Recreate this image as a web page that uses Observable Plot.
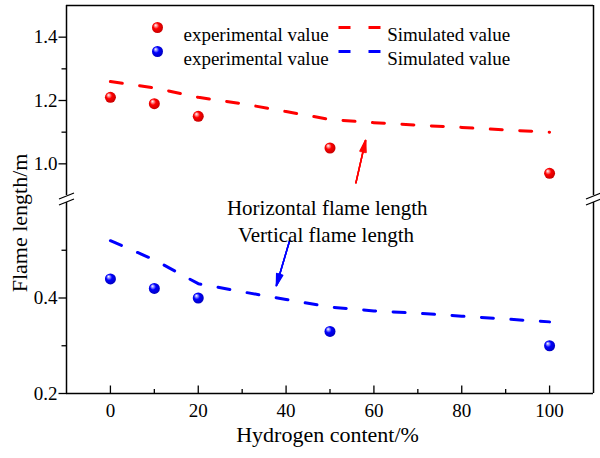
<!DOCTYPE html>
<html><head><meta charset="utf-8">
<script src="https://cdn.jsdelivr.net/npm/d3@7"></script>
<script src="https://cdn.jsdelivr.net/npm/@observablehq/plot@0.6"></script>
<style>
html,body{margin:0;padding:0;background:#fff;}
#chart{position:relative;width:600px;height:458px;background:#fff;}
#chart svg{position:absolute;left:0;overflow:visible;}
</style>
</head><body><div id="chart"></div>
<script>
// ---- data ----
const hydrogen = [0, 10, 20, 50, 100];
const horizExp = [1.21, 1.19, 1.15, 1.05, 0.97];
const vertExp = [0.44, 0.42, 0.40, 0.33, 0.30];
const simHydrogen = [0, 10, 20, 30, 40, 50, 60, 70, 80, 90, 100];
const horizSim = [1.26, 1.24, 1.21, 1.19, 1.165, 1.14, 1.13, 1.122, 1.115, 1.107, 1.10];
const vertSim = [0.52, 0.48, 0.43, 0.413, 0.397, 0.381, 0.373, 0.368, 0.362, 0.356, 0.35];
const xTicks = [0, 20, 40, 60, 80, 100];
const xMinorTicks = [10, 30, 50, 70, 90];
const yTicksUpper = [1.0, 1.2, 1.4];
const yMinorUpper = [1.1, 1.3];
const yTicksLower = [0.2, 0.4];
const yMinorLower = [0.3, 0.5];
const xDomain = [-10, 110];
const yDomainUpper = [0.9, 1.5]; // broken y axis, upper part
const yDomainLower = [0.2, 0.6]; // broken y axis, lower part
const legendLabels = ["experimental value", "Simulated value"];
const annotations = ["Horizontal flame length", "Vertical flame length"];
const xTitle = "Hydrogen content/%";
const yTitle = "Flame length/m";
const redArrow = [{x1: 55.9, y1: 0.94, x2: 58.1, y2: 1.074}];
const blueArrow = [{x1: 40.8, y1: 0.52, x2: 37.8, y2: 0.426}];

const RED = "#ff0000", BLUE = "#0000ff";
const exp = (ys) => hydrogen.map((h, i) => ({x: h, y: ys[i]}));
const sim = (ys) => simHydrogen.map((h, i) => ({x: h, y: ys[i]}));

// custom symbols: tick marks, axis break, legend dash
const lineSym = (x1, y1, x2, y2) => ({draw(c) { c.moveTo(x1, y1); c.lineTo(x2, y2); }});
const breakSym = {draw(c) { c.moveTo(-7.5, 0); c.lineTo(7.5, -6); c.moveTo(-7.5, 6); c.lineTo(7.5, 0); }};
const dashSym = lineSym(-21, 0, 21, 0);
const K = {stroke: "#000", strokeWidth: 1.3, fill: "none"};

const FONT = "'Liberation Serif', 'Times New Roman', serif";
const common = {
  width: 600, marginLeft: 66, marginRight: 7,
  style: {fontFamily: FONT, fontSize: "19px", background: "transparent", color: "#000", overflow: "visible"}
};

const frameSide = (dom) => [{x: xDomain[0], y1: dom[0], y2: dom[1]}, {x: xDomain[1], y1: dom[0], y2: dom[1]}];

// arrow with a (nearly) filled narrow head
const arrowMarks = (data, color) => [
  Plot.arrow(data, {x1: "x1", y1: "y1", x2: "x2", y2: "y2", stroke: color, strokeWidth: 1.5, headLength: 12, headAngle: 30}),
  Plot.arrow(data, {x1: "x1", y1: "y1", x2: "x2", y2: "y2", stroke: color, strokeWidth: 1.5, headLength: 12, headAngle: 20}),
  Plot.arrow(data, {x1: "x1", y1: "y1", x2: "x2", y2: "y2", stroke: color, strokeWidth: 1.5, headLength: 12, headAngle: 10})
];

const legendRow = (r, color) => [
  Plot.dot([legendLabels[0]], {frameAnchor: "top-left", dx: 91, dy: 22 + 24 * r, r: 5.5, fill: color}),
  Plot.text([legendLabels[0]], {text: d => d, frameAnchor: "top-left", dx: 117, dy: 22 + 24 * r, textAnchor: "start", fontSize: 19}),
  Plot.dot([legendLabels[1]], {frameAnchor: "top-left", dx: 293, dy: 22 + 24 * r, symbol: dashSym, stroke: color, strokeWidth: 3, strokeDasharray: "12,18", fill: "none"}),
  Plot.text([legendLabels[1]], {text: d => d, frameAnchor: "top-left", dx: 320.7, dy: 22 + 24 * r, textAnchor: "start", fontSize: 19})
];

// ---------- upper part ----------
const upper = Plot.plot({
  ...common,
  height: 199, marginTop: 5, marginBottom: 4,
  x: {domain: xDomain, axis: null},
  y: {domain: yDomainUpper, ticks: yTicksUpper, tickSize: 0, tickPadding: 9, tickFormat: d3.format(".1f"), label: null},
  marks: [
    Plot.ruleY([yDomainUpper[1]], {stroke: "#000", strokeWidth: 1.5}),
    Plot.ruleX(frameSide(yDomainUpper), {x: "x", y1: "y1", y2: "y2", stroke: "#000", strokeWidth: 1.5}),
    Plot.dot([0], {frameAnchor: "bottom-left", dy: 3.5, symbol: breakSym, ...K}),
    Plot.dot([0], {frameAnchor: "bottom-right", dy: 3.5, symbol: breakSym, ...K}),
    Plot.dot(yTicksUpper, {y: d => d, frameAnchor: "left", symbol: lineSym(-8, 0, 0, 0), ...K}),
    Plot.dot(yMinorUpper, {y: d => d, frameAnchor: "left", symbol: lineSym(-5, 0, 0, 0), ...K}),
    Plot.line(sim(horizSim), {x: "x", y: "y", stroke: RED, strokeWidth: 3, strokeDasharray: "12,17.5"}),
    Plot.dot(exp(horizExp), {x: "x", y: "y", r: 5.5, fill: RED}),
    ...arrowMarks(redArrow, RED),
    Plot.text([annotations[0]], {text: d => d, frameAnchor: "top-left", dx: 260.7, dy: 195, textAnchor: "middle", fontSize: 21}),
    ...legendRow(0, RED),
    ...legendRow(1, BLUE)
  ]
});

// ---------- lower part ----------
const lower = Plot.plot({
  ...common,
  height: 259, marginTop: 3, marginBottom: 65,
  x: {domain: xDomain, ticks: xTicks, tickSize: 0, tickPadding: 10, label: null},
  y: {domain: yDomainLower, ticks: yTicksLower, tickSize: 0, tickPadding: 9, tickFormat: d3.format(".1f"), label: null},
  marks: [
    Plot.ruleY([yDomainLower[0]], {stroke: "#000", strokeWidth: 1.5}),
    Plot.ruleX(frameSide(yDomainLower), {x: "x", y1: "y1", y2: "y2", stroke: "#000", strokeWidth: 1.5}),
    Plot.dot(yTicksLower, {y: d => d, frameAnchor: "left", symbol: lineSym(-8, 0, 0, 0), ...K}),
    Plot.dot(yMinorLower, {y: d => d, frameAnchor: "left", symbol: lineSym(-5, 0, 0, 0), ...K}),
    Plot.dot(xTicks, {x: d => d, frameAnchor: "bottom", symbol: lineSym(0, 0, 0, -8), ...K}),
    Plot.dot(xMinorTicks, {x: d => d, frameAnchor: "bottom", symbol: lineSym(0, 0, 0, -4.5), ...K}),
    Plot.line(sim(vertSim), {x: "x", y: "y", stroke: BLUE, strokeWidth: 3, strokeDasharray: "12,17.5"}),
    Plot.dot(exp(vertExp), {x: "x", y: "y", r: 5.5, fill: BLUE}),
    ...arrowMarks(blueArrow, BLUE),
    Plot.text([annotations[1]], {text: d => d, frameAnchor: "top-left", dx: 259.5, dy: 24.3, textAnchor: "middle", fontSize: 21}),
    Plot.text([xTitle], {text: d => d, frameAnchor: "bottom", dx: -2.5, dy: 48, textAnchor: "middle", fontSize: 22}),
    Plot.text([yTitle], {text: d => d, frameAnchor: "left", dx: -47, dy: -75, rotate: -90, textAnchor: "middle", fontSize: 22})
  ]
});

// glossy ball gradients
const NS = "http://www.w3.org/2000/svg";
function addBalls(svg, suf) {
  const defs = document.createElementNS(NS, "defs");
  [["gradRed", RED, "#ff9090", "#c00000"], ["gradBlue", BLUE, "#9090ff", "#0000b8"]].forEach(([id, c, light, dark]) => {
    const g = document.createElementNS(NS, "radialGradient");
    g.setAttribute("id", id + suf);
    g.setAttribute("cx", "45%"); g.setAttribute("cy", "45%"); g.setAttribute("r", "60%");
    g.setAttribute("fx", "32%"); g.setAttribute("fy", "28%");
    [["0", "#ffffff"], ["0.2", light], ["0.45", c], ["1", dark]].forEach(([o, col]) => {
      const s = document.createElementNS(NS, "stop");
      s.setAttribute("offset", o); s.setAttribute("stop-color", col);
      g.appendChild(s);
    });
    defs.appendChild(g);
  });
  svg.insertBefore(defs, svg.firstChild);
  svg.querySelectorAll("circle").forEach(e => {
    const f = (e.getAttribute("fill") || e.parentNode.getAttribute("fill") || "").toLowerCase();
    if (f === RED || f === "red" || f === "rgb(255, 0, 0)") e.setAttribute("fill", "url(#gradRed" + suf + ")");
    if (f === BLUE || f === "blue" || f === "rgb(0, 0, 255)") e.setAttribute("fill", "url(#gradBlue" + suf + ")");
  });
}
addBalls(upper, "U"); addBalls(lower, "L");

upper.style.top = "0px";
lower.style.top = "199px";
const chart = document.getElementById("chart");
chart.appendChild(upper);
chart.appendChild(lower);
</script>
</body></html>
